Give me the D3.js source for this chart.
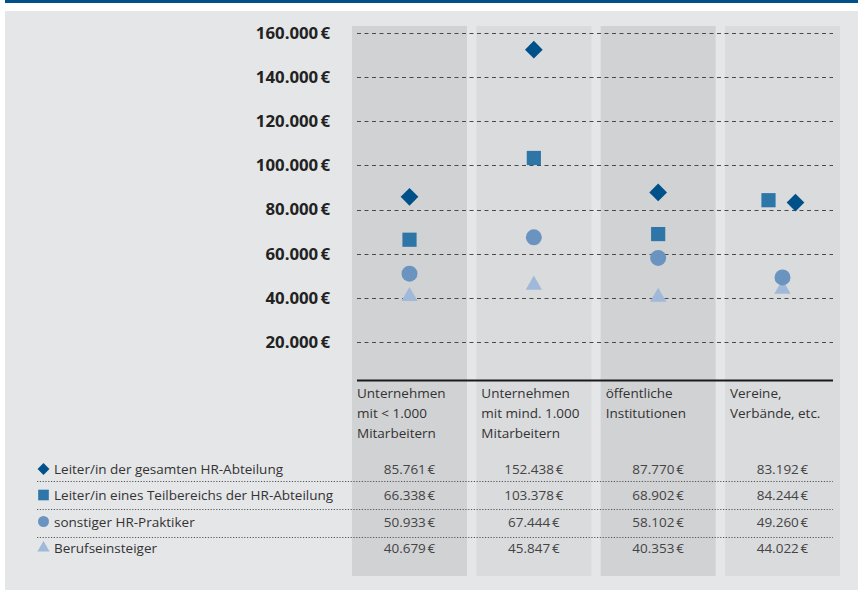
<!DOCTYPE html>
<html><head><meta charset="utf-8">
<script src="https://cdn.jsdelivr.net/npm/d3@7"></script>
<style>
html,body{margin:0;padding:0;background:#fff;}
svg{display:block;font-family:"Open Sans","Noto Sans",sans-serif;}
</style></head>
<body>
<svg id="chart" width="858" height="590"></svg>
<script>
// ---- data ----
const categories = [
  ["Unternehmen", "mit < 1.000", "Mitarbeitern"],
  ["Unternehmen", "mit mind. 1.000", "Mitarbeitern"],
  ["öffentliche", "Institutionen"],
  ["Vereine,", "Verbände, etc."]
];
const seriesNames = [
  "Leiter/in der gesamten HR-Abteilung",
  "Leiter/in eines Teilbereichs der HR-Abteilung",
  "sonstiger HR-Praktiker",
  "Berufseinsteiger"
];
const leiterGesamt = [85761, 152438, 87770, 83192];
const leiterTeil = [66338, 103378, 68902, 84244];
const sonstige = [50933, 67444, 58102, 49260];
const einsteiger = [40679, 45847, 40353, 44022];
const yTicks = [20000, 40000, 60000, 80000, 100000, 120000, 140000, 160000];

const series = [leiterGesamt, leiterTeil, sonstige, einsteiger];
const symbols = [d3.symbolDiamond2, d3.symbolSquare2, d3.symbolCircle, d3.symbolTriangle];
const colors = ["#00508a", "#2e75a8", "#6a93c0", "#a0b9d9"];
const symSize = [200, 256, 200, 115];
const legSize = [90, 144, 95, 65];

const locale = d3.formatLocale({decimal: ",", thousands: ".", grouping: [3], currency: ["", "\u202f€"]});
const fmt = locale.format("$,.0f");

const svg = d3.select("#chart");
// top bar & background
svg.append("rect").attr("x", 5).attr("y", 0).attr("width", 853).attr("height", 3).attr("fill", "#00508a");
svg.append("rect").attr("x", 5).attr("y", 11).attr("width", 853).attr("height", 579).attr("fill", "#e5e6e8");

const x = d3.scaleBand().domain(d3.range(categories.length)).range([352, 840]).paddingInner(0.075).paddingOuter(0);
const y = d3.scaleLinear().domain([20000, 160000]).range([342, 33]);

// column bands
svg.append("g").selectAll("rect").data(d3.range(categories.length)).join("rect")
  .attr("x", d => x(d)).attr("y", 26).attr("width", x.bandwidth()).attr("height", 550)
  .attr("fill", d => d % 2 === 0 ? "#d1d2d4" : "#dadbdd");

// y axis (gridlines + labels)
const yAxis = d3.axisLeft(y).tickValues(yTicks).tickFormat(fmt).tickSize(0).tickPadding(0);
const gy = svg.append("g").attr("transform", "translate(330,0)").call(yAxis);
gy.select(".domain").remove();
gy.selectAll("text").attr("font-size", 16.8).attr("font-weight", "bold").attr("fill", "#222")
  .attr("font-family", "'Open Sans','Noto Sans',sans-serif");
svg.append("g").selectAll("line").data(yTicks).join("line")
  .attr("x1", 357).attr("x2", 833).attr("y1", d => Math.round(y(d)) + 0.5).attr("y2", d => Math.round(y(d)) + 0.5)
  .attr("stroke", "#4a4a4a").attr("stroke-width", 1.2).attr("stroke-dasharray", "4,3.5");

// x axis line
svg.append("line").attr("x1", 357).attr("x2", 833).attr("y1", 380.5).attr("y2", 380.5)
  .attr("stroke", "#1a1a1a").attr("stroke-width", 1.8);

// category labels
const catG = svg.append("g").selectAll("text").data(categories).join("text")
  .attr("x", (d, i) => x(i) + 5).attr("y", 398)
  .attr("font-size", 13.5).attr("fill", "#333");
catG.selectAll("tspan").data(d => d).join("tspan")
  .attr("x", function() { return d3.select(this.parentNode).attr("x"); })
  .attr("dy", (d, i) => i === 0 ? 0 : 20).text(d => d);

// markers (drawn back to front: triangle first, diamond last)
[3, 2, 1, 0].forEach(s => {
  const vals = series[s];
  svg.append("g").selectAll("path").data(vals).join("path")
    .attr("transform", (v, i) => {
      let dx = 0;
      if (Math.abs(leiterGesamt[i] - leiterTeil[i]) < 5000) dx = s === 0 ? 13 : (s === 1 ? -14 : 0);
      return `translate(${x(i) + x.bandwidth() / 2 + dx},${y(v)})`;
    })
    .attr("d", d3.symbol().type(symbols[s]).size(symSize[s]))
    .attr("fill", colors[s]);
});

// table
const rowY = [474, 500, 526.5, 553];
const sepY = [481, 509, 537];
svg.append("g").selectAll("line").data(sepY).join("line")
  .attr("x1", 37).attr("x2", 833).attr("y1", d => d + 0.5).attr("y2", d => d + 0.5)
  .attr("stroke", "#555").attr("stroke-width", 1).attr("stroke-dasharray", "1.2,1.6");

seriesNames.forEach((name, s) => {
  svg.append("path")
    .attr("transform", `translate(43.5,${rowY[s] - 5})`)
    .attr("d", d3.symbol().type(symbols[s]).size(legSize[s]))
    .attr("fill", colors[s]);
  svg.append("text").attr("x", 54).attr("y", rowY[s]).attr("font-size", 13.5).attr("fill", "#333").text(name);
  svg.append("g").selectAll("text").data(series[s]).join("text")
    .attr("x", (v, i) => x(i) + x.bandwidth() / 2).attr("y", rowY[s])
    .attr("text-anchor", "middle").attr("font-size", 13.5).attr("fill", "#444")
    .text(v => fmt(v));
});
</script>
</body></html>
